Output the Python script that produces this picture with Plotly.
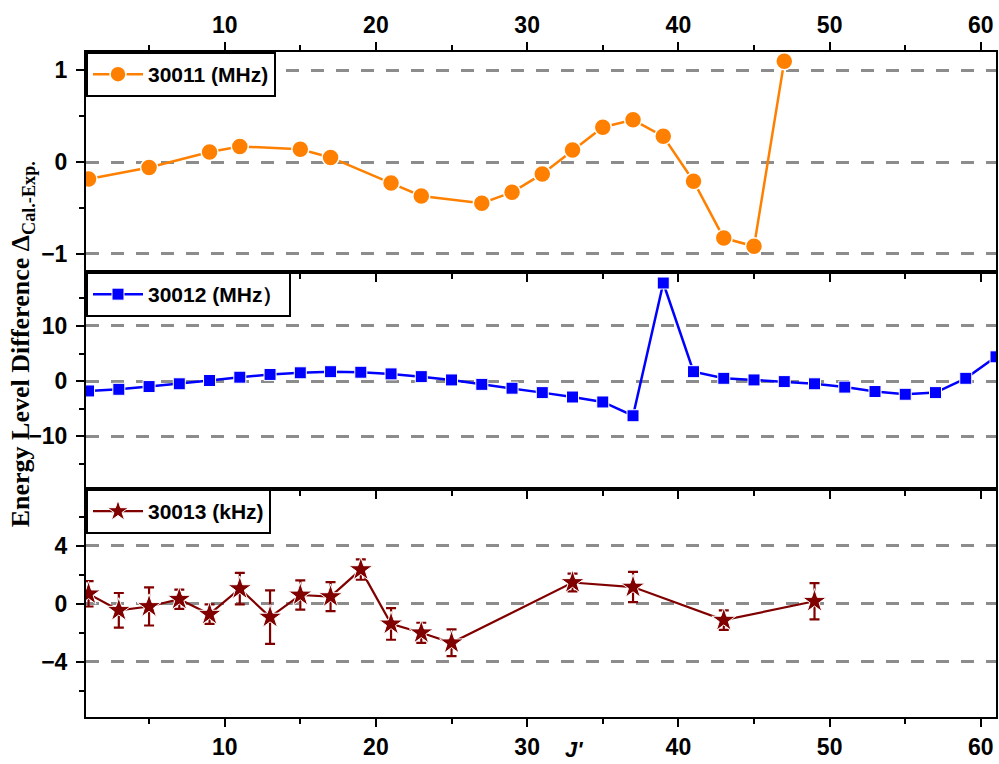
import plotly.graph_objects as go

# ---- data ----
j_30011 = [1, 5, 9, 11, 15, 17, 21, 23, 27, 29, 31, 33, 35, 37, 39, 41, 43, 45, 47]
d_30011 = [-0.185, -0.06, 0.11, 0.17, 0.14, 0.05, -0.23, -0.37, -0.45, -0.33, -0.13,
           0.13, 0.38, 0.46, 0.28, -0.21, -0.83, -0.92, 1.10]

j_30012 = list(range(1, 62, 2))
d_30012 = [-1.8, -1.5, -1.0, -0.5, 0.1, 0.7, 1.2, 1.5, 1.7, 1.6, 1.3, 0.8, 0.2, -0.6,
           -1.3, -2.1, -2.9, -3.8, -6.3, 17.8, 1.7, 0.5, 0.2, -0.1, -0.5, -1.1, -1.9,
           -2.4, -2.1, 0.5, 4.4]

j_30013 = [1, 3, 5, 7, 9, 11, 13, 15, 17, 19, 21, 23, 25, 33, 37, 43, 49]
d_30013 = [0.68, -0.45, -0.19, 0.31, -0.72, 1.04, -0.92, 0.60, 0.49, 2.35, -1.39,
           -2.00, -2.69, 1.46, 1.15, -1.13, 0.17]
e_30013 = [0.87, 1.19, 1.31, 0.66, 0.67, 1.09, 1.84, 1.01, 1.00, 0.70, 1.09, 0.69,
           0.92, 0.61, 1.04, 0.67, 1.25]

names = ["30011 (MHz)", "30012 (MHz）", "30013 (kHz)"]
x_ticks_major = 10

ORANGE = "#FF8000"
BLUE = "#0000FF"
DRED = "#800000"
GRID = "#8C8C8C"

fig = go.Figure()

fig.add_trace(go.Scatter(
    x=j_30011, y=d_30011, mode="lines+markers", name=names[0],
    line=dict(color=ORANGE, width=2.5),
    marker=dict(symbol="circle", size=17, color=ORANGE, line=dict(color="white", width=1.5)),
    xaxis="x", yaxis="y", legend="legend"))

fig.add_trace(go.Scatter(
    x=j_30012, y=d_30012, mode="lines+markers", name=names[1],
    line=dict(color=BLUE, width=2.5),
    marker=dict(symbol="square", size=12, color=BLUE, line=dict(color="white", width=1)),
    xaxis="x2", yaxis="y2", legend="legend2"))

fig.add_trace(go.Scatter(
    x=j_30013, y=d_30013, mode="lines+markers", name=names[2],
    line=dict(color=DRED, width=2.2),
    marker=dict(symbol="star", size=18, color=DRED, line=dict(color="white", width=1)),
    error_y=dict(type="data", array=e_30013, visible=True, color=DRED, thickness=2.2, width=5),
    xaxis="x3", yaxis="y3", legend="legend3"))

tickfont = dict(family="Liberation Sans, Arial", size=23, color="black", weight="bold")
xr = [0.83, 61.0]

common_x = dict(range=xr, tick0=0, dtick=x_ticks_major, showline=True, linewidth=2,
                linecolor="black", ticklen=8, tickwidth=2, tickcolor="black",
                showgrid=False, zeroline=False, tickfont=tickfont)
minor_x = dict(tick0=0, dtick=5, ticklen=5, tickwidth=2, tickcolor="black", showgrid=False)

common_y = dict(showline=True, linewidth=2, linecolor="black", mirror=True,
                ticks="outside", ticklen=8, tickwidth=2, tickcolor="black",
                showgrid=True, gridcolor=GRID, gridwidth=2.5, griddash="13px,12px",
                zeroline=False, tickfont=tickfont, ticklabelstandoff=4)

d1 = (717 - 272) / 665
d2 = (717 - 489) / 665

fig.update_layout(
    width=999, height=764,
    margin=dict(l=86, r=1, t=52, b=47),
    paper_bgcolor="white", plot_bgcolor="white",
    xaxis=dict(common_x, anchor="y", side="top", ticks="outside", mirror="ticks",
               showticklabels=True, minor=dict(minor_x, ticks="outside")),
    xaxis2=dict(common_x, anchor="y2", side="bottom", ticks="outside", mirror=True,
                showticklabels=False, minor=dict(minor_x, ticks="outside")),
    xaxis3=dict(common_x, anchor="y3", side="bottom", ticks="outside", mirror=True,
                showticklabels=True, minor=dict(minor_x, ticks="outside")),
    yaxis=dict(common_y, anchor="x", domain=[d1, 1], range=[-1.2, 1.2], tick0=0, dtick=1,
               minor=dict(tick0=0, dtick=0.5, ticks="outside", ticklen=5, tickwidth=2,
                          tickcolor="black", showgrid=False)),
    yaxis2=dict(common_y, anchor="x2", domain=[d2, d1], range=[-19.6, 19.8], tick0=0, dtick=10,
                minor=dict(tick0=0, dtick=5, ticks="outside", ticklen=5, tickwidth=2,
                           tickcolor="black", showgrid=False)),
    yaxis3=dict(common_y, anchor="x3", domain=[0, d2], range=[-7.8, 7.9], tick0=0, dtick=4,
                minor=dict(tick0=0, dtick=2, ticks="outside", ticklen=5, tickwidth=2,
                           tickcolor="black", showgrid=False)),
    showlegend=True,
)

legend_common = dict(x=0, xanchor="left", yanchor="top", bgcolor="white",
                     bordercolor="black", borderwidth=2, itemwidth=50,
                     font=dict(family="Liberation Sans, Arial", size=21, color="black",
                               weight="bold"),
                     tracegroupgap=0)
fig.update_layout(
    legend=dict(legend_common, y=1.0),
    legend2=dict(legend_common, y=d1),
    legend3=dict(legend_common, y=d2),
)

fig.add_annotation(
    text="Energy Level Difference Δ<sub>Cal.-Exp.</sub>",
    xref="paper", yref="paper", x=-0.07, y=(717 - 344) / 665,
    xanchor="center", yanchor="middle", textangle=-90, showarrow=False,
    font=dict(family="Liberation Serif, Times New Roman", size=26, color="black", weight="bold"))

fig.add_annotation(
    text="<i>J'</i>",
    xref="paper", yref="paper", x=(575 - 86) / 912, y=(717 - 764) / 665,
    xanchor="center", yanchor="bottom", showarrow=False,
    font=dict(family="Liberation Sans, Arial", size=22, color="black", weight="bold"))

fig.write_html("out.html")
